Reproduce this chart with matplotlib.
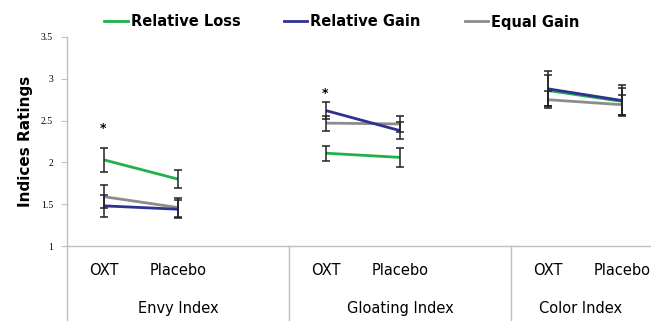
import numpy as np
import matplotlib.pyplot as plt
from matplotlib.lines import Line2D

# Data: three indices, each rated under OXT and Placebo
groups = ["Envy Index", "Gloating Index", "Color Index"]
conditions = ["OXT", "Placebo"]
series_names = ["Relative Loss", "Relative Gain", "Equal Gain"]

relative_loss = [2.03, 1.80, 2.11, 2.06, 2.86, 2.73]
relative_loss_err = [0.14, 0.11, 0.09, 0.11, 0.19, 0.16]
relative_gain = [1.48, 1.44, 2.62, 2.38, 2.88, 2.74]
relative_gain_err = [0.13, 0.11, 0.10, 0.10, 0.21, 0.18]
equal_gain = [1.59, 1.46, 2.47, 2.46, 2.75, 2.69]
equal_gain_err = [0.14, 0.11, 0.09, 0.10, 0.10, 0.12]

# significance markers: (group, condition, height)
stars = [(0, 0, 2.41), (1, 0, 2.83)]

colors = {"Relative Loss": "#1fb24a", "Relative Gain": "#2e3192", "Equal Gain": "#8c8c8c"}
values = {"Relative Loss": (relative_loss, relative_loss_err),
          "Relative Gain": (relative_gain, relative_gain_err),
          "Equal Gain": (equal_gain, equal_gain_err)}

W, H = 651, 321
fig = plt.figure(figsize=(W / 100, H / 100), dpi=100)
plt.rcParams["font.family"] = ["DejaVu Sans"]

# axes spans three slots per group; the last group runs past the right edge
slot_px = 74
left_px, top_px, bottom_px = 67, 37, 246
ax = fig.add_axes([left_px / W, 1 - bottom_px / H, 9 * slot_px / W, (bottom_px - top_px) / H])
ax.set_xlim(-0.5, 8.5)
ax.set_ylim(1, 3.5)
visible_right = (W - left_px) / slot_px - 0.5

axis_gray = "#bfbfbf"
for s in ["top", "right"]:
    ax.spines[s].set_visible(False)
for s in ["left", "bottom"]:
    ax.spines[s].set_color(axis_gray)
    ax.spines[s].set_linewidth(1.0)

ax.set_yticks(np.arange(1, 3.51, 0.5))
ax.set_yticklabels(["1", "1.5", "2", "2.5", "3", "3.5"], fontsize=7, family="Liberation Serif")
ax.tick_params(axis="y", direction="out", length=4, color=axis_gray, pad=6)
ax.set_xticks([])

ax.set_ylabel("Indices Ratings", fontsize=11, fontweight="bold", labelpad=6)

# draw order: loss underneath, then equal gain, then relative gain on top
for name in ["Relative Loss", "Equal Gain", "Relative Gain"]:
    vals, errs = values[name]
    for g in range(len(groups)):
        xs = [3 * g + c for c in range(len(conditions))]
        ys = vals[2 * g:2 * g + 2]
        es = errs[2 * g:2 * g + 2]
        ax.plot(xs, ys, color=colors[name], lw=2.0, zorder=3, solid_capstyle="butt")
        ax.errorbar(xs, ys, yerr=es, fmt="none", ecolor="#222222", elinewidth=1.1,
                    capsize=3, capthick=1.1, zorder=4)

for g, c, h in stars:
    ax.text(3 * g + c - 0.02, h, "*", ha="center", va="center", fontsize=9, fontweight="bold")

# category axis: condition labels, group labels and separators below the plot
xt = ax.get_xaxis_transform()
for g, gname in enumerate(groups):
    for c, cname in enumerate(conditions):
        ax.text(3 * g + c, -0.115, cname, transform=xt, ha="center", va="center",
                fontsize=10.5, clip_on=False)
    g_lo, g_hi = 3 * g - 0.5, min(3 * g + 2.5, visible_right)
    ax.text((g_lo + g_hi) / 2, -0.297, gname, transform=xt, ha="center", va="center",
            fontsize=10.5, clip_on=False)
for xsep in [-0.5, 2.5, 5.5, 8.5]:
    ax.plot([xsep, xsep], [0, -0.4], transform=xt, color=axis_gray, lw=1.0, clip_on=False)

handles = [Line2D([0], [0], color=colors[n], lw=2.0) for n in series_names]
fig.legend(handles, series_names, loc="center", bbox_to_anchor=(0.525, 1 - 22 / H), ncol=3,
           frameon=False, handlelength=1.6, handletextpad=0.2, columnspacing=3.0,
           prop={"size": 10.5, "weight": "bold"})

fig.savefig("out.png", dpi=100)
